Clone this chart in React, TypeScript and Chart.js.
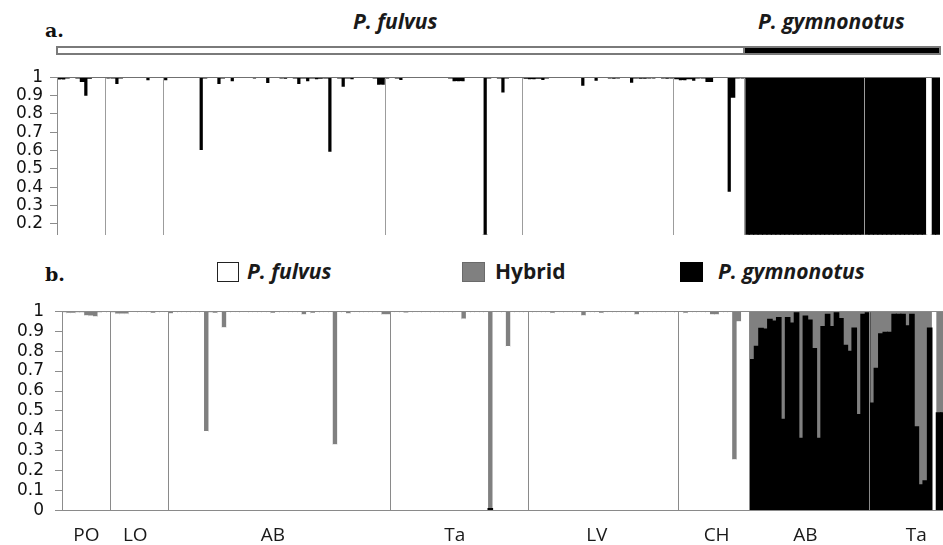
import React, { useEffect, useRef } from "react";
import { Chart, registerables } from "chart.js";

Chart.register(...registerables);

// ---- population groups (shared by both panels) ----
const populations = ["PO", "LO", "AB", "Ta", "LV", "CH", "AB", "Ta"];
const populationSizes = [11, 13, 50, 31, 34, 16, 27, 17];
const populationLabelIndex = [5, 16, 47, 88, 120, 147, 167, 192];

// ---- tick labels ----
const yTicksA = [1, 0.9, 0.8, 0.7, 0.6, 0.5, 0.4, 0.3, 0.2];
const yTicksB = [1, 0.9, 0.8, 0.7, 0.6, 0.5, 0.4, 0.3, 0.2, 0.1, 0];

// ---- panel a: P. gymnonotus membership (black, from top) per individual ----
const gymnoA = [
  // PO
  0.016, 0.016, 0.01, 0.008, 0.01, 0.03, 0.105, 0.012, 0.008, 0.006, 0.006,
  // LO
  0.01, 0.01, 0.04, 0.01, 0.008, 0.008, 0.006, 0.008, 0.006, 0.02, 0.006, 0.005, 0.005,
  // AB
  0.02, 0.005, 0.006, 0.005, 0.004, 0.005, 0.006, 0.008, 0.4, 0.01,
  0.006, 0.008, 0.04, 0.01, 0.008, 0.025, 0.008, 0.008, 0.006, 0.008,
  0.01, 0.008, 0.006, 0.035, 0.008, 0.006, 0.01, 0.012, 0.008, 0.01,
  0.04, 0.01, 0.025, 0.01, 0.015, 0.012, 0.01, 0.41, 0.008, 0.01,
  0.055, 0.01, 0.015, 0.008, 0.008, 0.006, 0.008, 0.01, 0.045, 0.045,
  // Ta
  0.01, 0.008, 0.01, 0.018, 0.006, 0.005, 0.005, 0.006, 0.008, 0.006,
  0.005, 0.005, 0.006, 0.008, 0.01, 0.025, 0.025, 0.025, 0.008, 0.006,
  0.006, 0.008, 0.995, 0.01, 0.008, 0.01, 0.087, 0.01, 0.008, 0.008, 0.008,
  // LV
  0.012, 0.015, 0.015, 0.012, 0.018, 0.01, 0.006, 0.006, 0.005, 0.006,
  0.008, 0.008, 0.006, 0.05, 0.008, 0.006, 0.022, 0.006, 0.008, 0.01,
  0.012, 0.01, 0.008, 0.008, 0.034, 0.01, 0.012, 0.012, 0.01, 0.01,
  0.008, 0.01, 0.012, 0.01,
  // CH
  0.015, 0.02, 0.02, 0.015, 0.022, 0.01, 0.01, 0.03, 0.03, 0.006, 0.006, 0.008, 0.628, 0.115, 0.01, 0.01,
  // AB (P. gymnonotus)
  1, 1, 1, 1, 1, 1, 1, 1, 1, 1, 1, 1, 1, 1, 1, 1, 1, 1, 1, 1, 1, 1, 1, 1, 1, 1, 1,
  // Ta (P. gymnonotus)
  1, 1, 1, 1, 1, 1, 1, 1, 1, 1, 1, 1, 1, 1, 0, 1, 1,
];

// ---- panel b: hybrid (grey) and P. gymnonotus (black) per individual ----
const hybridB = [
  // PO
  0.005, 0.008, 0.008, 0.005, 0.005, 0.02, 0.022, 0.025, 0.005, 0.004, 0.004,
  // LO
  0.005, 0.012, 0.012, 0.012, 0.004, 0.004, 0.004, 0.004, 0.004, 0.008, 0.004, 0.004, 0.004,
  // AB
  0.01, 0.004, 0.004, 0.004, 0.004, 0.004, 0.004, 0.004, 0.6, 0.005,
  0.008, 0.004, 0.08, 0.004, 0.004, 0.004, 0.004, 0.004, 0.004, 0.004,
  0.004, 0.004, 0.004, 0.008, 0.004, 0.004, 0.004, 0.004, 0.004, 0.004,
  0.015, 0.004, 0.008, 0.004, 0.004, 0.004, 0.004, 0.667, 0.004, 0.004,
  0.01, 0.004, 0.004, 0.004, 0.004, 0.004, 0.004, 0.004, 0.015, 0.015,
  // Ta
  0.004, 0.004, 0.004, 0.006, 0.004, 0.004, 0.004, 0.004, 0.004, 0.004,
  0.004, 0.004, 0.004, 0.004, 0.004, 0.004, 0.037, 0.004, 0.004, 0.004,
  0.004, 0.004, 0.99, 0.004, 0.004, 0.004, 0.175, 0.004, 0.004, 0.004, 0.004,
  // LV
  0.004, 0.004, 0.004, 0.004, 0.004, 0.008, 0.004, 0.004, 0.004, 0.004,
  0.004, 0.004, 0.02, 0.004, 0.004, 0.004, 0.008, 0.004, 0.004, 0.004,
  0.004, 0.004, 0.004, 0.004, 0.015, 0.004, 0.004, 0.004, 0.004, 0.004,
  0.004, 0.004, 0.004, 0.004,
  // CH
  0.004, 0.008, 0.004, 0.004, 0.004, 0.004, 0.004, 0.015, 0.015, 0.004, 0.004, 0.004, 0.742, 0.05, 0, 0,
  // AB (P. gymnonotus)
  0.242, 0.176, 0.086, 0.09, 0.041, 0.049, 0.032, 0.542, 0.032, 0.06, 0.008, 0.637, 0.024, 0.044,
  0.188, 0.637, 0.077, 0.016, 0.077, 0.008, 0.037, 0.171, 0.201, 0.085, 0.518, 0.016, 0.008,
  // Ta (P. gymnonotus)
  0.461, 0.286, 0.114, 0.106, 0.106, 0.016, 0.016, 0.016, 0.073, 0.016, 0.58, 0.871, 0.85, 0.085, 0, 0.51, 0.51,
];

const gymnoB = [
  // PO
  0, 0, 0, 0, 0, 0, 0, 0, 0, 0, 0,
  // LO
  0, 0, 0, 0, 0, 0, 0, 0, 0, 0, 0, 0, 0,
  // AB
  0, 0, 0, 0, 0, 0, 0, 0, 0, 0,
  0, 0, 0, 0, 0, 0, 0, 0, 0, 0,
  0, 0, 0, 0, 0, 0, 0, 0, 0, 0,
  0, 0, 0, 0, 0, 0, 0, 0, 0, 0,
  0, 0, 0, 0, 0, 0, 0, 0, 0, 0,
  // Ta
  0, 0, 0, 0, 0, 0, 0, 0, 0, 0,
  0, 0, 0, 0, 0, 0, 0, 0, 0, 0,
  0, 0, 0.01, 0, 0, 0, 0, 0, 0, 0, 0,
  // LV
  0, 0, 0, 0, 0, 0, 0, 0, 0, 0,
  0, 0, 0, 0, 0, 0, 0, 0, 0, 0,
  0, 0, 0, 0, 0, 0, 0, 0, 0, 0,
  0, 0, 0, 0,
  // CH
  0, 0, 0, 0, 0, 0, 0, 0, 0, 0, 0, 0, 0, 0, 0, 0,
  // AB (P. gymnonotus)
  0.758, 0.824, 0.914, 0.91, 0.959, 0.951, 0.968, 0.458, 0.968, 0.94, 0.992, 0.363, 0.976, 0.956,
  0.812, 0.363, 0.923, 0.984, 0.923, 0.992, 0.963, 0.829, 0.799, 0.915, 0.482, 0.984, 0.992,
  // Ta (P. gymnonotus)
  0.539, 0.714, 0.886, 0.894, 0.894, 0.984, 0.984, 0.984, 0.927, 0.984, 0.42, 0.129, 0.15, 0.915, 0, 0.49, 0.49,
];

// ---- derived tables ----
const individualLabels = gymnoA.map((_, i) => String(i + 1));
const separatorIndex = new Set<number>();
{
  let acc = 0;
  populationSizes.forEach((n, k) => {
    if (k > 0) separatorIndex.add(acc);
    acc += n;
  });
}
const fulvusA = gymnoA.map((g) => 1 - g);
const fulvusB = hybridB.map((h, i) => Math.max(0, 1 - h - gymnoB[i]));

const fmt = (v: number) => String(Number(Number(v).toFixed(1)));
const tickFont = { family: "DejaVu Sans", size: 17 };
const HYBRID = "#808080";
const barStyle = { barPercentage: 1, categoryPercentage: 1, borderWidth: 0, inflateAmount: 0.6, clip: 0 };

function makeConfigA(): any {
  return {
    type: "bar",
    data: {
      labels: individualLabels,
      datasets: [
        { label: "P. fulvus", data: fulvusA, backgroundColor: "#ffffff", ...barStyle },
        { label: "P. gymnonotus", data: gymnoA, backgroundColor: "#000000", ...barStyle },
      ],
    },
    options: {
      responsive: false,
      animation: false,
      events: [],
      layout: { padding: { top: 15, right: 3, left: 0, bottom: 0 } },
      plugins: { legend: { display: false }, tooltip: { enabled: false } },
      scales: {
        x: {
          stacked: true,
          z: 1,
          grid: {
            z: 1,
            offset: true,
            drawTicks: false,
            color: (ctx: any) => (separatorIndex.has(ctx.index) ? "#9c9c9c" : "transparent"),
          },
          border: { display: false },
          ticks: { display: false, autoSkip: false },
          afterFit: (s: any) => {
            s.height = 0;
          },
        },
        y: {
          stacked: true,
          min: 0.14,
          max: 1,
          z: 1,
          afterBuildTicks: (s: any) => {
            s.ticks = yTicksA.map((v) => ({ value: v }));
          },
          afterFit: (s: any) => {
            s.width = 57;
          },
          grid: {
            z: 1,
            color: (ctx: any) => (ctx.tick && ctx.tick.value === 1 ? "#707070" : "transparent"),
            tickColor: "#8c8c8c",
            tickLength: 7,
          },
          border: { color: "#8c8c8c", z: 1 },
          ticks: {
            autoSkip: false,
            padding: 7,
            font: tickFont,
            color: "#111111",
            callback: (v: number) => fmt(v),
          },
        },
      },
    },
  };
}

function makeConfigB(): any {
  return {
    type: "bar",
    data: {
      labels: individualLabels,
      datasets: [
        { label: "P. gymnonotus", data: gymnoB, backgroundColor: "#000000", ...barStyle },
        { label: "P. fulvus", data: fulvusB, backgroundColor: "#ffffff", ...barStyle, inflateAmount: 0 },
        { label: "Hybrid", data: hybridB, backgroundColor: HYBRID, ...barStyle },
      ],
    },
    options: {
      responsive: false,
      animation: false,
      events: [],
      layout: { padding: { top: 17, right: 3, left: 0, bottom: 0 } },
      plugins: { legend: { display: false }, tooltip: { enabled: false } },
      scales: {
        x: {
          stacked: true,
          z: 1,
          grid: {
            z: 1,
            offset: true,
            drawTicks: false,
            color: (ctx: any) => (separatorIndex.has(ctx.index) ? "#8a8a8a" : "transparent"),
          },
          border: { display: true, color: "#8a8a8a", z: 1 },
          ticks: {
            autoSkip: false,
            maxRotation: 0,
            minRotation: 0,
            padding: 13,
            font: { family: "Open Sans", size: 19 },
            color: "#1a1a1a",
            callback: (_v: any, i: number) => {
              const k = populationLabelIndex.indexOf(i);
              return k >= 0 ? populations[k] : "";
            },
          },
          afterFit: (s: any) => {
            s.height = 34.3;
          },
        },
        y: {
          stacked: true,
          min: 0,
          max: 1,
          z: 1,
          afterBuildTicks: (s: any) => {
            s.ticks = yTicksB.map((v) => ({ value: v }));
          },
          afterFit: (s: any) => {
            s.width = 62;
          },
          grid: {
            z: 1,
            color: (ctx: any) => (ctx.tick && ctx.tick.value === 1 ? "#8a8a8a" : "transparent"),
            tickColor: "#8c8c8c",
            tickLength: 7,
          },
          border: { color: "#8c8c8c", z: 1 },
          ticks: {
            autoSkip: false,
            padding: 11,
            font: tickFont,
            color: "#111111",
            callback: (v: number) => fmt(v),
          },
        },
      },
    },
  };
}

const abs = (left: number, top: number, extra: React.CSSProperties = {}): React.CSSProperties => ({
  position: "absolute",
  left,
  top,
  whiteSpace: "nowrap",
  lineHeight: 1,
  margin: 0,
  ...extra,
});

const speciesFont: React.CSSProperties = {
  fontFamily: "'Open Sans', sans-serif",
  fontWeight: 700,
  fontStyle: "italic",
  fontSize: 21,
  color: "#1a1a1a",
};
const panelFont: React.CSSProperties = {
  fontFamily: "'DejaVu Serif', serif",
  fontWeight: 700,
  fontSize: 19,
  color: "#111111",
};

export default function App() {
  const refA = useRef<HTMLCanvasElement>(null);
  const refB = useRef<HTMLCanvasElement>(null);

  useEffect(() => {
    document.body.style.margin = "0";
    const a = new Chart(refA.current as HTMLCanvasElement, makeConfigA());
    const b = new Chart(refB.current as HTMLCanvasElement, makeConfigB());
    return () => {
      a.destroy();
      b.destroy();
    };
  }, []);

  return (
    <div style={{ position: "relative", width: 943, height: 545, overflow: "hidden", background: "#ffffff" }}>
      {/* panel a header */}
      <div style={abs(45, 21, panelFont)}>a.</div>
      <div style={abs(353, 11, speciesFont)}>P. fulvus</div>
      <div style={abs(758, 11, speciesFont)}>P. gymnonotus</div>
      <div
        style={abs(56, 46, {
          width: 689,
          height: 9,
          boxSizing: "border-box",
          border: "2px solid #7a7a7a",
          background: "#ffffff",
        })}
      />
      <div
        style={abs(743, 46, {
          width: 198,
          height: 9,
          boxSizing: "border-box",
          border: "2px solid #7a7a7a",
          background: "#000000",
        })}
      />
      <canvas ref={refA} width={943} height={192} style={{ position: "absolute", left: 0, top: 60, display: "block" }} />

      {/* panel b header + legend */}
      <div style={abs(45, 265, panelFont)}>b.</div>
      <div style={abs(217, 262, { width: 22, height: 20, boxSizing: "border-box", border: "1px solid #222", background: "#fff" })} />
      <div style={abs(247, 261, speciesFont)}>P. fulvus</div>
      <div style={abs(462, 262, { width: 23, height: 20, boxSizing: "border-box", border: "1px solid #6a6a6a", background: HYBRID })} />
      <div style={abs(495, 261, { ...speciesFont, fontStyle: "normal" })}>Hybrid</div>
      <div style={abs(680, 262, { width: 23, height: 20, background: "#000" })} />
      <div style={abs(718, 261, speciesFont)}>P. gymnonotus</div>
      <canvas ref={refB} width={956} height={255} style={{ position: "absolute", left: 0, top: 290, display: "block" }} />
    </div>
  );
}
